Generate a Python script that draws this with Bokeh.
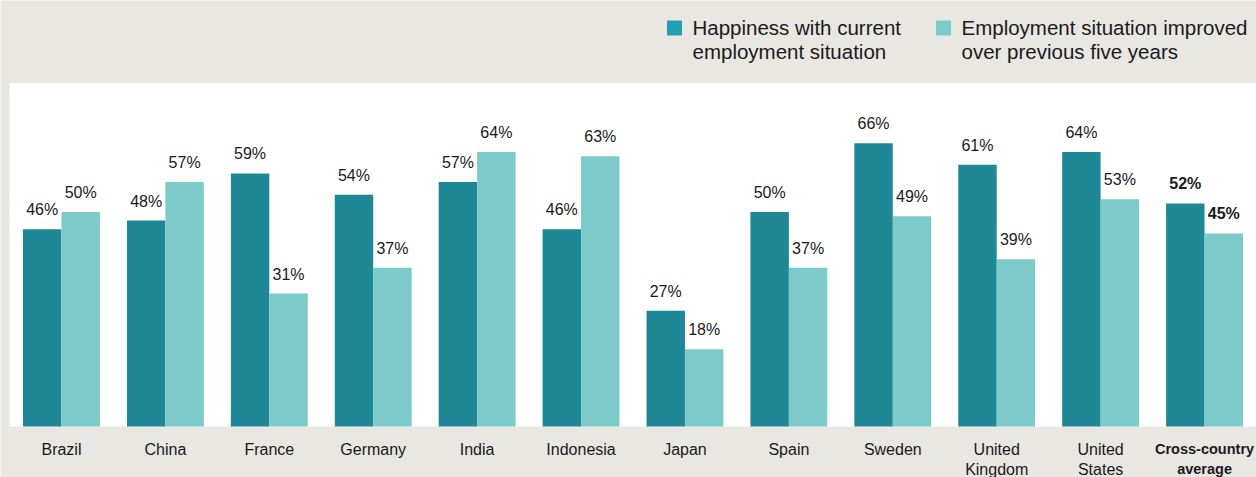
from bokeh.plotting import figure
from bokeh.models import ColumnDataSource, BoxAnnotation
from bokeh.core.properties import value
from bokeh.embed import file_html
from bokeh.resources import INLINE

categories = ["Brazil", "China", "France", "Germany", "India", "Indonesia", "Japan",
              "Spain", "Sweden", "United Kingdom", "United States", "Cross-country average"]
label_line1 = ["Brazil", "China", "France", "Germany", "India", "Indonesia", "Japan",
               "Spain", "Sweden", "United", "United", "Cross-country"]
label_line2 = ["", "", "", "", "", "", "", "", "", "Kingdom", "States", "average"]
happiness = [46, 48, 59, 54, 57, 46, 27, 50, 66, 61, 64, 52]
improved = [50, 57, 31, 37, 64, 63, 18, 37, 49, 39, 53, 45]
series1_lines = ["Happiness with current", "employment situation"]
series2_lines = ["Employment situation improved", "over previous five years"]

DARK = "#1e8896"
DARK_LEG = "#25a0b3"
LIGHT = "#7ccbca"
BG = "#e8e7e2"
TXT = "#1a1a1a"
FONT = "Liberation Sans"

# canvas geometry (pixels)
WIDTH, HEIGHT = 1256, 477
PLOT_L, PLOT_R, PLOT_B = 9, 1256, 426
PX_PER_UNIT_Y = 4.29
n = len(categories)
px_per_cat = (PLOT_R - PLOT_L) / n

x_start = -PLOT_L / px_per_cat
x_end = n
y_start = -(HEIGHT - PLOT_B) / PX_PER_UNIT_Y
y_end = PLOT_B / PX_PER_UNIT_Y


def dx(px):
    return x_start + px / px_per_cat


def dy(py):
    return (PLOT_B - py) / PX_PER_UNIT_Y


xs = [i + 0.5 for i in range(n)]
W = 0.37
is_avg = [c == "Cross-country average" for c in categories]
src = ColumnDataSource(dict(
    x=xs, x1=[x - W / 2 for x in xs], x2=[x + W / 2 for x in xs],
    h=happiness, i=improved,
    ht=[f"{v}%" for v in happiness], it=[f"{v}%" for v in improved],
    l1=label_line1, l2=label_line2,
    fs=["bold" if a else "normal" for a in is_avg],
    lsize=["14.5px" if a else "16px" for a in is_avg],
))

p = figure(x_range=(x_start, x_end), y_range=(y_start, y_end),
           width=WIDTH, height=HEIGHT, output_backend="svg", toolbar_location=None,
           min_border=0)
p.background_fill_color = BG
p.border_fill_color = BG
p.outline_line_color = None
p.grid.visible = False
p.axis.visible = False

# white plot area
p.add_layout(BoxAnnotation(left=0, right=n, bottom=0, top=80, fill_color="white",
                           fill_alpha=1, line_color=None, level="underlay"))

p.vbar(x="x1", top="h", width=W, source=src, fill_color=DARK, line_color=None)
p.vbar(x="x2", top="i", width=W, source=src, fill_color=LIGHT, line_color=None)

common = dict(source=src, text_font=value(FONT), text_font_style="fs",
              text_color=TXT, text_align="center", text_baseline="alphabetic")
p.text(x="x1", y="h", text="ht", text_font_size="16px", y_offset=-19.5, **common)
p.text(x="x2", y="i", text="it", text_font_size="16px", y_offset=-19.5, **common)

# category labels
p.text(x="x", y=0, text="l1", text_font_size="lsize", y_offset=22.5, **common)
p.text(x="x", y=0, text="l2", text_font_size="lsize", y_offset=42.5, **common)

# legend
for sq_left, col, lines in [(666.5, DARK_LEG, series1_lines), (935.5, LIGHT, series2_lines)]:
    p.rect(x=dx(sq_left + 7.5), y=dy(27.5), width=15, height=15,
           width_units="screen", height_units="screen", fill_color=col, line_color=None)
    p.text(x=[dx(sq_left + 25.5)] * 2, y=[dy(27.2), dy(51.0)], text=lines,
           text_font=value(FONT), text_font_size="20.5px", text_color=TXT,
           text_align="left", text_baseline="alphabetic")

open("out.html", "w").write(file_html(p, INLINE))
